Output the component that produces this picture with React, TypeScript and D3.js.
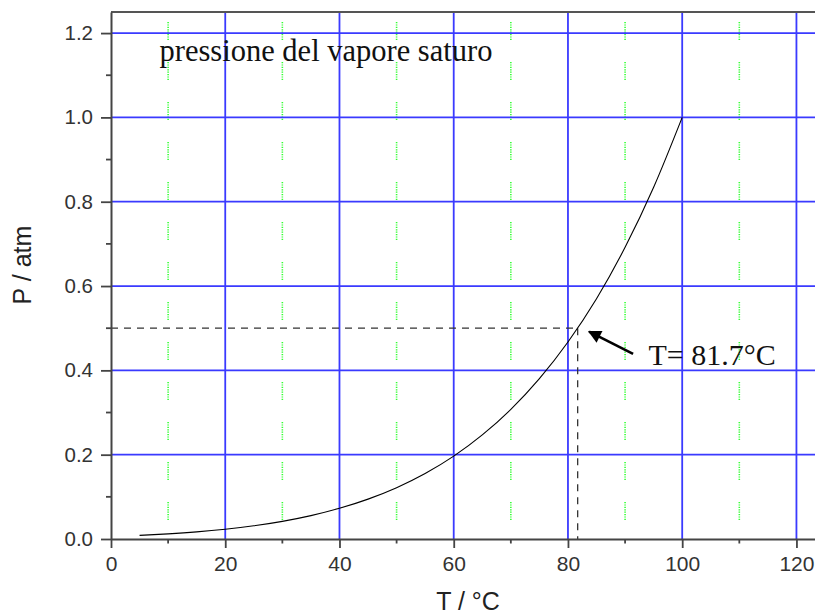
import { useEffect, useRef } from 'react';
import * as d3 from 'd3';

// Saturated water vapour pressure (atm) vs temperature (°C)
const temps = [5, 10, 15, 20, 25, 30, 35, 40, 45, 50, 55, 60, 65, 70, 75, 80, 85, 90, 95, 100];
const pressures = [
  0.0086, 0.0121, 0.0168, 0.0231, 0.0313, 0.0419, 0.0555, 0.0728, 0.0946, 0.1217,
  0.1553, 0.1965, 0.2468, 0.3075, 0.3804, 0.4672, 0.57, 0.6918, 0.8342, 1.0,
];

const xMajorTicks = [0, 20, 40, 60, 80, 100, 120];
const xMinorTicks = [10, 30, 50, 70, 90, 110];
const yMajorTicks = [0, 0.2, 0.4, 0.6, 0.8, 1.0, 1.2];
const yMinorTicks = [0.1, 0.3, 0.5, 0.7, 0.9, 1.1];

const halfPressure = 0.5;
const boilingHalf = 81.7;
const arrowFrom = [91.4, 0.439];
const arrowTo = [83.7, 0.492];
const annotationLabel = 'T= 81.7°C';
const annotationAt = [94.1, 0.413];
const chartTitle = 'pressione del vapore saturo';
const titleAt = [8.5, 1.133];

const W = 815;
const H = 615;

export default function App() {
  const svgRef = useRef<SVGSVGElement>(null);

  useEffect(() => {
    if (!svgRef.current) return;
    const svg = d3.select(svgRef.current);
    svg.selectAll('*').remove();

    const left = 111;
    const top = 12;
    const right = 825;
    const bottom = 539;

    const x = d3.scaleLinear().domain([0, 125]).range([left, right]);
    const y = d3.scaleLinear().domain([0, 1.25]).range([bottom, top]);

    const defs = svg.append('defs');
    defs
      .append('marker')
      .attr('id', 'arrowhead')
      .attr('viewBox', '0 0 10 10')
      .attr('refX', 9)
      .attr('refY', 5)
      .attr('markerWidth', 6)
      .attr('markerHeight', 5)
      .attr('markerUnits', 'strokeWidth')
      .attr('orient', 'auto')
      .append('path')
      .attr('d', 'M0,0 L10,5 L0,10 z')
      .attr('fill', '#000');

    // green dotted minor grid
    const dots = Array(7).fill('1.2 1.2').join(' ') + ' 1.2 22';
    svg
      .append('g')
      .selectAll('line')
      .data(xMinorTicks)
      .join('line')
      .attr('x1', (d) => x(d))
      .attr('x2', (d) => x(d))
      .attr('y1', top)
      .attr('y2', bottom)
      .attr('stroke', '#33ff33')
      .attr('stroke-width', 1.6)
      .attr('stroke-dasharray', dots)
      .attr('stroke-dashoffset', 30);

    // blue major grid
    svg
      .append('g')
      .selectAll('line')
      .data(xMajorTicks.filter((d) => d > 0))
      .join('line')
      .attr('x1', (d) => x(d))
      .attr('x2', (d) => x(d))
      .attr('y1', top)
      .attr('y2', bottom)
      .attr('stroke', '#3a3aff')
      .attr('stroke-width', 1.8);

    svg
      .append('g')
      .selectAll('line')
      .data(yMajorTicks.filter((d) => d > 0))
      .join('line')
      .attr('x1', left)
      .attr('x2', right)
      .attr('y1', (d) => y(d))
      .attr('y2', (d) => y(d))
      .attr('stroke', '#3a3aff')
      .attr('stroke-width', 1.8);

    // dashed guides at P = 0.5
    svg
      .append('line')
      .attr('x1', left)
      .attr('x2', x(boilingHalf))
      .attr('y1', y(halfPressure))
      .attr('y2', y(halfPressure))
      .attr('stroke', '#333')
      .attr('stroke-width', 1.3)
      .attr('stroke-dasharray', '7 6');
    svg
      .append('line')
      .attr('x1', x(boilingHalf))
      .attr('x2', x(boilingHalf))
      .attr('y1', y(halfPressure))
      .attr('y2', bottom)
      .attr('stroke', '#333')
      .attr('stroke-width', 1.3)
      .attr('stroke-dasharray', '7 6');

    // curve
    const points = temps.map((t, i) => [t, pressures[i]] as [number, number]);
    const line = d3
      .line<[number, number]>()
      .x((d) => x(d[0]))
      .y((d) => y(d[1]))
      .curve(d3.curveMonotoneX);
    svg
      .append('path')
      .datum(points)
      .attr('d', line)
      .attr('fill', 'none')
      .attr('stroke', '#000')
      .attr('stroke-width', 1.1);

    // frame
    svg
      .append('line')
      .attr('x1', left)
      .attr('x2', right)
      .attr('y1', top)
      .attr('y2', top)
      .attr('stroke', '#555')
      .attr('stroke-width', 2);

    const xAxis = svg
      .append('g')
      .attr('transform', `translate(0,${bottom})`)
      .call(
        d3
          .axisBottom(x)
          .tickValues(xMajorTicks)
          .tickSize(9)
          .tickSizeOuter(0)
          .tickPadding(8)
          .tickFormat(d3.format('d'))
      );
    xAxis.select('.domain').attr('stroke', '#444').attr('stroke-width', 2);
    xAxis.selectAll('.tick line').attr('stroke', '#444').attr('stroke-width', 1.8);
    xAxis
      .selectAll('.tick text')
      .attr('fill', '#333')
      .attr('font-family', '"Liberation Sans", Arial, sans-serif')
      .attr('font-size', 21);

    svg
      .append('g')
      .selectAll('line')
      .data(xMinorTicks)
      .join('line')
      .attr('x1', (d) => x(d))
      .attr('x2', (d) => x(d))
      .attr('y1', bottom)
      .attr('y2', bottom + 4.5)
      .attr('stroke', '#444')
      .attr('stroke-width', 1.8);

    const yAxis = svg
      .append('g')
      .attr('transform', `translate(${left},0)`)
      .call(
        d3
          .axisLeft(y)
          .tickValues(yMajorTicks)
          .tickSize(10)
          .tickSizeOuter(0)
          .tickPadding(8)
          .tickFormat(d3.format('.1f'))
      );
    yAxis.select('.domain').attr('stroke', '#444').attr('stroke-width', 2);
    yAxis.selectAll('.tick line').attr('stroke', '#444').attr('stroke-width', 1.8);
    yAxis
      .selectAll('.tick text')
      .attr('fill', '#333')
      .attr('font-family', '"Liberation Sans", Arial, sans-serif')
      .attr('font-size', 20.5);

    svg
      .append('g')
      .selectAll('line')
      .data(yMinorTicks)
      .join('line')
      .attr('x1', left - 5)
      .attr('x2', left)
      .attr('y1', (d) => y(d))
      .attr('y2', (d) => y(d))
      .attr('stroke', '#444')
      .attr('stroke-width', 1.8);

    // axis titles
    svg
      .append('text')
      .attr('x', (left + right) / 2)
      .attr('y', 610)
      .attr('text-anchor', 'middle')
      .attr('font-family', '"Liberation Sans", Arial, sans-serif')
      .attr('font-size', 25)
      .attr('fill', '#222')
      .text('T / °C');

    svg
      .append('text')
      .attr('transform', `translate(31,265) rotate(-90)`)
      .attr('text-anchor', 'middle')
      .attr('font-family', '"Liberation Sans", Arial, sans-serif')
      .attr('font-size', 25)
      .attr('fill', '#222')
      .text('P / atm');

    // title and annotation
    svg
      .append('text')
      .attr('x', x(titleAt[0]))
      .attr('y', y(titleAt[1]))
      .attr('font-family', '"Liberation Serif", "Times New Roman", serif')
      .attr('font-size', 30.5)
      .attr('fill', '#111')
      .text(chartTitle);

    svg
      .append('line')
      .attr('x1', x(arrowFrom[0]))
      .attr('y1', y(arrowFrom[1]))
      .attr('x2', x(arrowTo[0]))
      .attr('y2', y(arrowTo[1]))
      .attr('stroke', '#000')
      .attr('stroke-width', 2.6)
      .attr('marker-end', 'url(#arrowhead)');

    svg
      .append('text')
      .attr('x', x(annotationAt[0]))
      .attr('y', y(annotationAt[1]))
      .attr('font-family', '"Liberation Serif", "Times New Roman", serif')
      .attr('font-size', 30)
      .attr('fill', '#111')
      .text(annotationLabel);
  }, []);

  return (
    <svg
      ref={svgRef}
      width={W}
      height={H}
      style={{ position: 'absolute', left: 0, top: 0, background: '#fff' }}
    />
  );
}
